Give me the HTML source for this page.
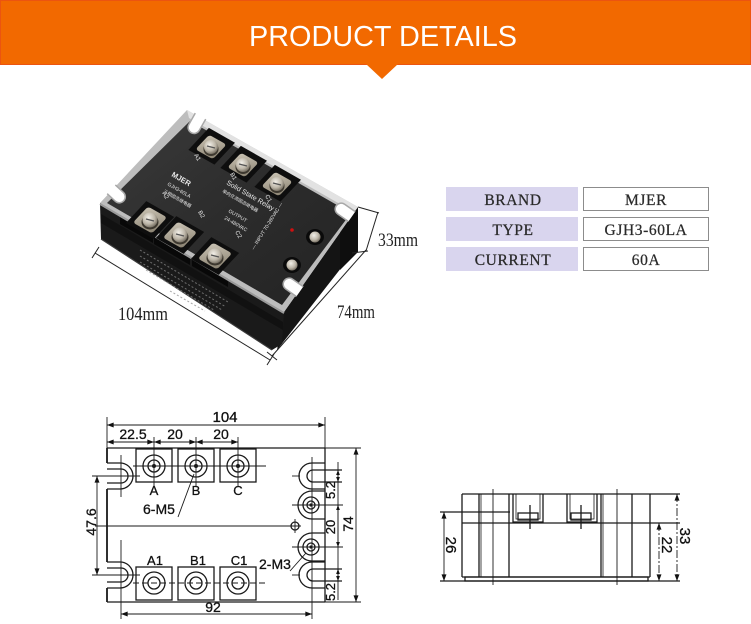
<!DOCTYPE html>
<html><head><meta charset="utf-8">
<style>
html,body{margin:0;padding:0;background:#fff;}
body{width:751px;height:624px;overflow:hidden;}
svg{display:block;}
</style></head><body>
<svg width="751" height="624" viewBox="0 0 751 624" xmlns="http://www.w3.org/2000/svg">
<defs>
 <marker id="a" viewBox="0 0 8 6" refX="8" refY="3" markerWidth="7" markerHeight="5" markerUnits="userSpaceOnUse" orient="auto-start-reverse"><path d="M0,0 L8,3 L0,6z" fill="#111"/></marker>
 <marker id="s" viewBox="0 0 8 6" refX="8" refY="3" markerWidth="5" markerHeight="4" markerUnits="userSpaceOnUse" orient="auto-start-reverse"><path d="M0,0 L8,3 L0,6z" fill="#111"/></marker>
 <linearGradient id="tg" x1="0" y1="0" x2="1" y2="1">
  <stop offset="0" stop-color="#3a3a3a"/><stop offset="0.5" stop-color="#2c2c2c"/><stop offset="1" stop-color="#232323"/>
 </linearGradient>
 <radialGradient id="sg" cx="0.4" cy="0.35" r="0.7">
  <stop offset="0" stop-color="#f2efe8"/><stop offset="0.6" stop-color="#bdb6a8"/><stop offset="1" stop-color="#6d665a"/>
 </radialGradient>
 <linearGradient id="pg" x1="0" y1="0" x2="1" y2="1">
  <stop offset="0" stop-color="#c9c2b3"/><stop offset="1" stop-color="#8a8271"/>
 </linearGradient>
</defs>

<!-- HEADER -->
<rect x="0" y="0" width="751" height="65" fill="#F26900"/>
<rect x="0.5" y="0.5" width="750" height="64" fill="none" stroke="#EC5410" stroke-width="1"/>
<polygon points="366,64 398,64 382,79" fill="#F26900"/>
<text x="249" y="46" font-family="Liberation Sans, sans-serif" font-size="29" fill="#fff" textLength="268" lengthAdjust="spacingAndGlyphs">PRODUCT DETAILS</text>

<!-- PHOTO -->
<g>
 <!-- right face -->
 <polygon points="358,207 284,312 277,350 352,254" fill="#141414"/>
 <polygon points="340,228 358,207 358,252 340,270" fill="#0e0e0e"/>
 <!-- front face -->
 <polygon points="100,203 284,312 282,344 272,350 101,239" fill="#1a1a1a"/>
 <polygon points="101,214 283,322 283,330 101,223" fill="#111"/>
 <line x1="101" y1="239" x2="272" y2="350" stroke="#3a3a3a" stroke-width="1.2"/>
 <!-- front recesses under terminals -->
 <polygon points="120,214 153,233 153,243 120,224" fill="#080808"/>
 <polygon points="154,234 190,255 190,265 154,244" fill="#080808"/>
 <polygon points="192,256 228,277 228,287 192,266" fill="#080808"/>
 <!-- label grid on front -->
 <g stroke="#8a8a8a" stroke-width="1" stroke-dasharray="2,2" opacity="0.75">
  <line x1="140" y1="250" x2="228" y2="302"/>
  <line x1="140" y1="256" x2="226" y2="307"/>
  <line x1="140" y1="262" x2="222" y2="310"/>
  <line x1="146" y1="270" x2="214" y2="310"/>
  <line x1="170" y1="291" x2="205" y2="311"/>
 </g>
 <!-- cover -->
 <polygon points="187,110 358,207 284,312 100,203" fill="#bdbdbd"/>
 <polygon points="187,110 358,207 354,212 189,118" fill="#e2e2e2"/>
 <line x1="100" y1="204" x2="284" y2="313" stroke="#9a9a9a" stroke-width="2"/>
 <!-- top black -->
 <polygon points="190,121 351,213 282,305 107,203" fill="url(#tg)"/>
 <!-- notches (U cut-outs from edge inward) -->
 <g transform="translate(112,190) rotate(-47)"><path d="M-6,-1 V10 A6,6 0 0 0 6,10 V-1 Z" fill="#fff"/><path d="M-6,-1 V10 A6,6 0 0 0 6,10 V-1" fill="none" stroke="#a8a8a8" stroke-width="1.5"/></g>
 <g transform="translate(200,117) rotate(29.5)"><path d="M-6,-1 V12 A6,6 0 0 0 6,12 V-1 Z" fill="#fff"/><path d="M-6,-1 V12 A6,6 0 0 0 6,12 V-1" fill="none" stroke="#a8a8a8" stroke-width="1.5"/></g>
 <g transform="translate(351,216) rotate(125)"><path d="M-6,-1 V12 A6,6 0 0 0 6,12 V-1 Z" fill="#fff"/><path d="M-6,-1 V12 A6,6 0 0 0 6,12 V-1" fill="none" stroke="#a8a8a8" stroke-width="1.5"/></g>
 <g transform="translate(299,291) rotate(125)"><path d="M-6,-1 V12 A6,6 0 0 0 6,12 V-1 Z" fill="#fff"/><path d="M-6,-1 V12 A6,6 0 0 0 6,12 V-1" fill="none" stroke="#a8a8a8" stroke-width="1.5"/></g>

 <!-- terminals -->
 <g transform="translate(150,220)">
  <g transform="matrix(0.87,0.493,-0.683,0.73,0,0)"><rect x="-16" y="-15" width="32" height="30" fill="#0e0e0e"/><rect x="-11" y="-11" width="22" height="22" rx="3" fill="url(#pg)"/></g>
  <ellipse cx="0" cy="2" rx="8.5" ry="7.5" fill="#3d382f"/><circle r="7.5" fill="url(#sg)"/><line x1="-4" y1="-1" x2="4" y2="1" stroke="#555" stroke-width="1.3"/>
 </g>
 <g transform="translate(180,235)">
  <g transform="matrix(0.87,0.493,-0.683,0.73,0,0)"><rect x="-16" y="-15" width="32" height="30" fill="#0e0e0e"/><rect x="-11" y="-11" width="22" height="22" rx="3" fill="url(#pg)"/></g>
  <ellipse cx="0" cy="2" rx="8.5" ry="7.5" fill="#3d382f"/><circle r="7.5" fill="url(#sg)"/><line x1="-4" y1="-1" x2="4" y2="1" stroke="#555" stroke-width="1.3"/>
 </g>
 <g transform="translate(215,256)">
  <g transform="matrix(0.87,0.493,-0.683,0.73,0,0)"><rect x="-16" y="-15" width="32" height="30" fill="#0e0e0e"/><rect x="-11" y="-11" width="22" height="22" rx="3" fill="url(#pg)"/></g>
  <ellipse cx="0" cy="2" rx="8.5" ry="7.5" fill="#3d382f"/><circle r="7.5" fill="url(#sg)"/><line x1="-4" y1="-1" x2="4" y2="1" stroke="#555" stroke-width="1.3"/>
 </g>
 <g transform="translate(211,147)">
  <g transform="matrix(0.87,0.493,-0.683,0.73,0,0)"><rect x="-15" y="-16" width="30" height="30" fill="#0e0e0e"/><rect x="-10" y="-10" width="20" height="20" rx="3" fill="url(#pg)"/></g>
  <ellipse cx="0" cy="2" rx="7.5" ry="7" fill="#3d382f"/><circle r="7" fill="url(#sg)"/><line x1="-4" y1="-1" x2="4" y2="1" stroke="#555" stroke-width="1.3"/>
 </g>
 <g transform="translate(243,165)">
  <g transform="matrix(0.87,0.493,-0.683,0.73,0,0)"><rect x="-15" y="-16" width="30" height="30" fill="#0e0e0e"/><rect x="-10" y="-10" width="20" height="20" rx="3" fill="url(#pg)"/></g>
  <ellipse cx="0" cy="2" rx="7.5" ry="7" fill="#3d382f"/><circle r="7" fill="url(#sg)"/><line x1="-4" y1="-1" x2="4" y2="1" stroke="#555" stroke-width="1.3"/>
 </g>
 <g transform="translate(277,184)">
  <g transform="matrix(0.87,0.493,-0.683,0.73,0,0)"><rect x="-15" y="-16" width="30" height="30" fill="#0e0e0e"/><rect x="-10" y="-10" width="20" height="20" rx="3" fill="url(#pg)"/></g>
  <ellipse cx="0" cy="2" rx="7.5" ry="7" fill="#3d382f"/><circle r="7" fill="url(#sg)"/><line x1="-4" y1="-1" x2="4" y2="1" stroke="#555" stroke-width="1.3"/>
 </g>
 <!-- small input terminals -->
 <g transform="translate(315,237)"><ellipse rx="9" ry="8" fill="#0a0a0a"/><circle r="5.5" fill="url(#sg)"/></g>
 <g transform="translate(292,265)"><ellipse rx="9" ry="8" fill="#0a0a0a"/><circle r="5.5" fill="url(#sg)"/></g>
 <circle cx="292" cy="230" r="1.8" fill="#d01010"/>

 <!-- top texts -->
 <g font-family="Liberation Sans, sans-serif" fill="#e8e8e8">
  <text transform="translate(171,176) rotate(30)" font-size="7.5" font-weight="bold">MJER</text>
  <text transform="translate(167,185) rotate(30)" font-size="5">GJH3-60LA</text>
  <text transform="translate(163,192) rotate(30)" font-size="4.5">三相固态继电器</text>
  <text transform="translate(226,184) rotate(30)" font-size="7">Solid State Relay</text>
  <text transform="translate(222,192) rotate(30)" font-size="4.5">单向交流固态继电器</text>
  <text transform="translate(228,212) rotate(30)" font-size="5">OUTPUT</text>
  <text transform="translate(224,219) rotate(30)" font-size="5">24-480VAC</text>
  <text transform="translate(194,155) rotate(60)" font-size="6">A1</text>
  <text transform="translate(230,174) rotate(60)" font-size="6">B1</text>
  <text transform="translate(265,196) rotate(60)" font-size="6">C1</text>
  <text transform="translate(162,193) rotate(60)" font-size="6">A2</text>
  <text transform="translate(198,212) rotate(60)" font-size="6">B2</text>
  <text transform="translate(235,232) rotate(60)" font-size="6">C2</text>
  <text transform="translate(254,250) rotate(-58)" font-size="5">— INPUT 70-280VAC —</text>
 </g>

 <!-- dimension lines of photo -->
 <g stroke="#222" stroke-width="1" fill="none">
  <line x1="95" y1="253" x2="270" y2="360"/>
  <line x1="92" y1="258" x2="99" y2="247"/>
  <line x1="267" y1="365" x2="274" y2="354"/>
  <line x1="272" y1="356" x2="366" y2="250"/>
  <line x1="267" y1="352" x2="277" y2="360"/>
  <line x1="358" y1="207" x2="379" y2="213"/>
  <line x1="378" y1="212" x2="366" y2="251"/>
  <line x1="352" y1="253" x2="368" y2="251"/>
 </g>
 <g font-family="Liberation Serif, serif" font-size="19" fill="#222">
  <text x="118" y="320" textLength="50" lengthAdjust="spacingAndGlyphs">104mm</text>
  <text x="337" y="318" textLength="38" lengthAdjust="spacingAndGlyphs">74mm</text>
  <text x="378" y="246" textLength="40" lengthAdjust="spacingAndGlyphs">33mm</text>
 </g>
</g>

<!-- TABLE -->
<g>
 <rect x="446" y="187" width="132" height="24" fill="#D9D5EE"/>
 <rect x="446" y="217" width="132" height="24" fill="#D9D5EE"/>
 <rect x="446" y="247" width="132" height="24" fill="#D9D5EE"/>
 <rect x="583.5" y="187.5" width="125" height="23" fill="#fff" stroke="#8c8c8c"/>
 <rect x="583.5" y="217.5" width="125" height="23" fill="#fff" stroke="#8c8c8c"/>
 <rect x="583.5" y="247.5" width="125" height="23" fill="#fff" stroke="#8c8c8c"/>
 <g font-family="Liberation Serif, serif" font-size="15.5" fill="#2a2a2a" stroke="#2a2a2a" stroke-width="0.25" text-anchor="middle" letter-spacing="0.6">
  <text x="513" y="205">BRAND</text>
  <text x="513" y="235">TYPE</text>
  <text x="513" y="265">CURRENT</text>
  <text x="646" y="205">MJER</text>
  <text x="646" y="235">GJH3-60LA</text>
  <text x="646" y="265">60A</text>
 </g>
</g>

<!-- LEFT TECH DRAWING -->
<g stroke="#1a1a1a" stroke-width="1.3" fill="none">
 <line x1="107" y1="448" x2="325" y2="448"/>
 <line x1="107" y1="602" x2="325" y2="602"/>
 <line x1="325" y1="448" x2="325" y2="602"/>
 <path d="M107,448 V463 M107,489 V562 M107,588 V602" stroke-width="1.8"/>
 <path d="M107,463 H120 A13,13 0 0 1 120,489 H107"/>
 <path d="M107,469 H121 A7,7 0 0 1 121,483 H107"/>
 <path d="M107,562 H120 A13,13 0 0 1 120,588 H107"/>
 <path d="M107,568 H121 A7,7 0 0 1 121,582 H107"/>
 <path d="M325,463 H312 A13,13 0 0 0 312,489 H325"/>
 <path d="M342,470 H313 A6,6 0 0 0 313,482 H342"/>
 <path d="M325,562 H312 A13,13 0 0 0 312,588 H325"/>
 <path d="M342,569 H313 A6,6 0 0 0 313,581 H342"/>
 <path d="M325,491 H312 A14,14 0 0 0 312,519 H325"/>
 <circle cx="311" cy="505" r="8"/><circle cx="311" cy="505" r="4"/>
 <path d="M325,533 H312 A14,14 0 0 0 312,561 H325"/>
 <circle cx="311" cy="547" r="8"/><circle cx="311" cy="547" r="4"/>
 <circle cx="295" cy="526" r="4"/>
 <rect x="136" y="449" width="36" height="33"/>
 <rect x="178" y="449" width="36" height="33"/>
 <rect x="220" y="449" width="36" height="33"/>
 <circle cx="154" cy="466" r="11"/><circle cx="154" cy="466" r="6"/>
 <circle cx="196" cy="466" r="11"/><circle cx="196" cy="466" r="6"/>
 <circle cx="238" cy="466" r="11"/><circle cx="238" cy="466" r="6"/>
 <rect x="136" y="567" width="36" height="33"/>
 <rect x="178" y="567" width="36" height="33"/>
 <rect x="220" y="567" width="36" height="33"/>
 <circle cx="154" cy="583" r="11"/><circle cx="154" cy="583" r="6"/>
 <circle cx="196" cy="583" r="11"/><circle cx="196" cy="583" r="6"/>
 <circle cx="238" cy="583" r="11"/><circle cx="238" cy="583" r="6"/>
</g>
<g fill="#1a1a1a">
 <circle cx="154" cy="466" r="2"/><circle cx="196" cy="466" r="2"/><circle cx="238" cy="466" r="2"/>
 <circle cx="311" cy="505" r="1.6"/><circle cx="311" cy="547" r="1.6"/>
</g>
<g stroke="#1a1a1a" stroke-width="0.9" fill="none">
 <line x1="133" y1="466" x2="266" y2="466"/>
 <line x1="154" y1="437" x2="154" y2="486"/>
 <line x1="196" y1="437" x2="196" y2="486"/>
 <line x1="238" y1="437" x2="238" y2="486"/>
 <line x1="133" y1="583" x2="266" y2="583" stroke-dasharray="6,3"/>
 <line x1="95" y1="526" x2="301" y2="526"/>
 <line x1="295" y1="519" x2="295" y2="533"/>
 <line x1="312" y1="457" x2="312" y2="619"/>
 <line x1="121" y1="455" x2="121" y2="497"/>
 <line x1="121" y1="540" x2="121" y2="619"/>
 <line x1="92" y1="476" x2="140" y2="476"/>
 <line x1="92" y1="575" x2="140" y2="575"/>
 <line x1="292" y1="476" x2="300" y2="476"/>
 <line x1="292" y1="575" x2="300" y2="575"/>
 <line x1="292" y1="505" x2="343" y2="505"/>
 <line x1="292" y1="547" x2="343" y2="547"/>
 <line x1="107" y1="417" x2="107" y2="448"/>
 <line x1="325" y1="417" x2="325" y2="448"/>
 <line x1="325" y1="448" x2="361" y2="448"/>
 <line x1="325" y1="602" x2="361" y2="602"/>
 <line x1="107" y1="425" x2="325" y2="425" marker-start="url(#a)" marker-end="url(#a)"/>
 <line x1="107" y1="442" x2="154" y2="442" marker-start="url(#a)" marker-end="url(#a)"/>
 <line x1="154" y1="442" x2="196" y2="442" marker-start="url(#a)" marker-end="url(#a)"/>
 <line x1="196" y1="442" x2="238" y2="442" marker-start="url(#a)" marker-end="url(#a)"/>
 <line x1="121" y1="614" x2="312" y2="614" marker-start="url(#a)" marker-end="url(#a)"/>
 <line x1="356" y1="448" x2="356" y2="602" marker-start="url(#a)" marker-end="url(#a)"/>
 <line x1="97" y1="476" x2="97" y2="575" marker-start="url(#a)" marker-end="url(#a)"/>
 <line x1="338" y1="462" x2="338" y2="600"/>
 <line x1="338" y1="470" x2="338" y2="482" marker-start="url(#s)" marker-end="url(#s)"/>
 <line x1="338" y1="505" x2="338" y2="547" marker-start="url(#s)" marker-end="url(#s)"/>
 <line x1="338" y1="569" x2="338" y2="581" marker-start="url(#s)" marker-end="url(#s)"/>
 <line x1="178" y1="517" x2="194" y2="474"/>
 <line x1="290" y1="571" x2="306" y2="553"/>
</g>
<g font-family="Liberation Sans, sans-serif" fill="#111" stroke="#111" stroke-width="0.3">
 <text x="225" y="422" font-size="15" text-anchor="middle">104</text>
 <text x="133" y="439" font-size="14" text-anchor="middle">22.5</text>
 <text x="175" y="439" font-size="14" text-anchor="middle">20</text>
 <text x="221" y="439" font-size="14" text-anchor="middle">20</text>
 <text x="154" y="495" font-size="13" text-anchor="middle">A</text>
 <text x="196" y="495" font-size="13" text-anchor="middle">B</text>
 <text x="238" y="495" font-size="13" text-anchor="middle">C</text>
 <text x="155" y="565" font-size="13" text-anchor="middle">A1</text>
 <text x="198" y="565" font-size="13" text-anchor="middle">B1</text>
 <text x="239" y="565" font-size="13" text-anchor="middle">C1</text>
 <text x="143" y="514" font-size="14">6-M5</text>
 <text x="259" y="569" font-size="14">2-M3</text>
 <text x="213" y="612" font-size="14" text-anchor="middle">92</text>
 <text transform="translate(96,522) rotate(-90)" font-size="14" text-anchor="middle">47.6</text>
 <text transform="translate(353,524) rotate(-90)" font-size="14" text-anchor="middle">74</text>
 <text transform="translate(335,490) rotate(-90)" font-size="13" text-anchor="middle">5.2</text>
 <text transform="translate(335,527) rotate(-90)" font-size="13" text-anchor="middle">20</text>
 <text transform="translate(335,592) rotate(-90)" font-size="13" text-anchor="middle">5.2</text>
</g>

<!-- RIGHT TECH DRAWING (side view) -->
<g stroke="#1a1a1a" stroke-width="1.3" fill="none">
 <line x1="462" y1="494" x2="680" y2="494"/>
 <line x1="462" y1="494" x2="462" y2="577"/>
 <line x1="650" y1="494" x2="650" y2="577"/>
 <line x1="462" y1="577" x2="650" y2="577"/>
 <rect x="465" y="577" width="183" height="4"/>
 <line x1="440" y1="581" x2="680" y2="581"/>
 <line x1="440" y1="512" x2="510" y2="512"/>
 <line x1="462" y1="523" x2="680" y2="523"/>
 <line x1="479" y1="494" x2="479" y2="577"/>
 <line x1="481" y1="494" x2="481" y2="577" stroke-width="0.8"/>
 <line x1="509" y1="494" x2="509" y2="577"/>
 <line x1="601" y1="494" x2="601" y2="577"/>
 <line x1="603" y1="494" x2="603" y2="577" stroke-width="0.8"/>
 <line x1="632" y1="494" x2="632" y2="577"/>
 <line x1="493" y1="489" x2="493" y2="585" stroke-width="0.9"/>
 <line x1="617" y1="489" x2="617" y2="585" stroke-width="0.9"/>
 <path d="M513,494 V522 H543 V494"/>
 <path d="M516,494 V519 H540 V494" stroke-width="0.8"/>
 <path d="M567,494 V522 H597 V494"/>
 <path d="M570,494 V519 H594 V494" stroke-width="0.8"/>
 <rect x="518" y="513" width="20" height="7"/>
 <line x1="530" y1="505" x2="530" y2="529"/>
 <rect x="571" y="513" width="20" height="7"/>
 <line x1="581" y1="505" x2="581" y2="529"/>
 <line x1="444" y1="512" x2="444" y2="581" stroke-width="0.9" marker-start="url(#a)" marker-end="url(#a)"/>
 <line x1="659" y1="523" x2="659" y2="581" stroke-width="0.9" stroke-dasharray="8,2,2,2" marker-start="url(#a)" marker-end="url(#a)"/>
 <line x1="677" y1="494" x2="677" y2="581" stroke-width="0.9" stroke-dasharray="8,2,2,2" marker-start="url(#a)" marker-end="url(#a)"/>
</g>
<g font-family="Liberation Sans, sans-serif" fill="#111" stroke="#111" stroke-width="0.3" font-size="15" text-anchor="middle">
 <text transform="translate(446,545) rotate(90)">26</text>
 <text transform="translate(662,545) rotate(90)">22</text>
 <text transform="translate(680,536) rotate(90)">33</text>
</g>
</svg>
</body></html>
